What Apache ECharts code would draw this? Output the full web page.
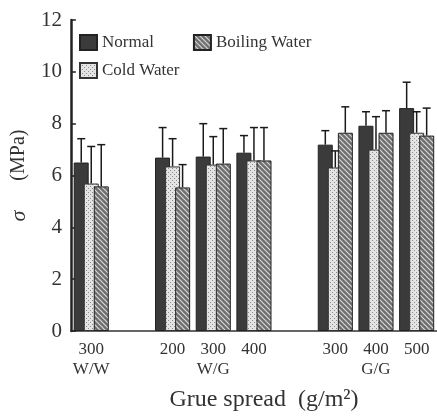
<!DOCTYPE html>
<html>
<head>
<meta charset="utf-8">
<script src="https://cdn.jsdelivr.net/npm/echarts@6/dist/echarts.min.js"></script>
<style>
  html, body { margin: 0; padding: 0; background: #fff; }
  #main { width: 437px; height: 417px; }
</style>
</head>
<body>
<div id="main"></div>
<script>
// glue spread groups (blank categories split the W/W, W/G and G/G groups)
var categories = ['300\nW/W', '', '200', '300\nW/G', '400', '', '300', '400\nG/G', '500']

var normal = [6.5, null, 6.69, 6.73, 6.88, null, 7.19, 7.92, 8.6]
var normalErr = [7.42, null, 7.85, 8.0, 7.54, null, 7.73, 8.46, 9.6]
var cold = [5.69, null, 6.35, 6.42, 6.58, null, 6.31, 7.0, 7.65]
var coldErr = [7.12, null, 7.42, 7.5, 7.85, null, 6.95, 8.27, 8.46]
var boiling = [5.58, null, 5.54, 6.46, 6.58, null, 7.65, 7.65, 7.54]
var boilingErr = [7.19, null, 6.42, 7.81, 7.85, null, 8.65, 8.5, 8.6]

var yTicks = [0, 2, 4, 6, 8, 10, 12]

var serif = 'Liberation Serif'

// fill patterns for the scanned look
function hatchPattern() {
  var c = document.createElement('canvas')
  c.width = 5
  c.height = 5
  var ctx = c.getContext('2d')
  ctx.fillStyle = '#6e6e6e'
  ctx.fillRect(0, 0, 5, 5)
  ctx.strokeStyle = '#d8d8d8'
  ctx.lineWidth = 1.2
  ctx.beginPath()
  ctx.moveTo(-1, -1); ctx.lineTo(6, 6)
  ctx.moveTo(-1, 4); ctx.lineTo(1, 6)
  ctx.moveTo(4, -1); ctx.lineTo(6, 1)
  ctx.stroke()
  return { image: c, repeat: 'repeat' }
}

function dotPattern() {
  var c = document.createElement('canvas')
  c.width = 4
  c.height = 4
  var ctx = c.getContext('2d')
  ctx.fillStyle = '#e4e4e4'
  ctx.fillRect(0, 0, 4, 4)
  ctx.fillStyle = '#8a8a8a'
  ctx.fillRect(0, 0, 1, 1)
  ctx.fillRect(2, 2, 1, 1)
  return { image: c, repeat: 'repeat' }
}

function errorSeries(name, values, tops, offset) {
  var data = []
  for (var i = 0; i < values.length; i++) {
    if (values[i] != null) data.push([i, values[i], tops[i]])
  }
  return {
    type: 'custom',
    name: name + ' err',
    z: 5,
    data: data,
    renderItem: function(params, api) {
      var low = api.coord([api.value(0), api.value(1)])
      var high = api.coord([api.value(0), api.value(2)])
      var x = low[0] + offset
      return {
        type: 'group',
        children: [
          { type: 'line', shape: { x1: x, y1: low[1], x2: x, y2: high[1] }, style: { stroke: '#1a1a1a', lineWidth: 1.5 } },
          { type: 'line', shape: { x1: x - 4, y1: high[1], x2: x + 4, y2: high[1] }, style: { stroke: '#1a1a1a', lineWidth: 1.5 } }
        ]
      }
    }
  }
}

var chart = echarts.init(document.getElementById('main'))

var barBase = {
  type: 'bar',
  barWidth: 15,
  barGap: '-33%'
}

chart.setOption({
  animation: false,
  textStyle: { fontFamily: serif },
  grid: { left: 66, top: 20, width: 373, height: 312 },
  legend: [
    {
      left: 74, top: 29,
      data: ['Normal', 'Boiling Water'],
      icon: 'rect', itemWidth: 17, itemHeight: 15, itemGap: 39,
      textStyle: { fontFamily: serif, fontSize: 17, color: '#333' }
    },
    {
      left: 74, top: 57,
      data: ['Cold Water'],
      icon: 'rect', itemWidth: 17, itemHeight: 15,
      textStyle: { fontFamily: serif, fontSize: 17, color: '#333' }
    }
  ],
  xAxis: {
    type: 'category',
    data: categories,
    axisLine: { lineStyle: { color: '#333', width: 1.5 } },
    axisTick: { show: false },
    axisLabel: { fontFamily: serif, fontSize: 17, color: '#333', lineHeight: 20, margin: 9, interval: 0 },
    name: 'Grue spread  (g/m²)',
    nameLocation: 'middle',
    nameGap: 57,
    nameTextStyle: { fontFamily: serif, fontSize: 24, color: '#333', padding: [0, 0, 0, 20] }
  },
  yAxis: {
    type: 'value',
    min: yTicks[0],
    max: yTicks[yTicks.length - 1],
    interval: 2,
    splitLine: { show: false },
    axisLine: { show: true, lineStyle: { color: '#222', width: 2.5 } },
    axisTick: { show: true, inside: true, length: 5, lineStyle: { color: '#222', width: 1.5 } },
    axisLabel: { fontFamily: serif, fontSize: 21, color: '#333', margin: 9 },
    name: '{s|σ}      (MPa)',
    nameLocation: 'middle',
    nameGap: 34,
    nameTextStyle: {
      fontFamily: serif, fontSize: 20, color: '#333',
      rich: { s: { fontFamily: serif, fontStyle: 'italic', fontSize: 22, color: '#333' } }
    }
  },
  series: [
    Object.assign({}, barBase, { name: 'Normal', data: normal, itemStyle: { color: '#3b3b3b', borderColor: '#222', borderWidth: 1 } }),
    Object.assign({}, barBase, { name: 'Cold Water', data: cold, itemStyle: { color: dotPattern(), borderColor: '#333', borderWidth: 1 } }),
    Object.assign({}, barBase, { name: 'Boiling Water', data: boiling, itemStyle: { color: hatchPattern(), borderColor: '#222', borderWidth: 1 } }),
    errorSeries('Normal', normal, normalErr, -10),
    errorSeries('Cold Water', cold, coldErr, 0),
    errorSeries('Boiling Water', boiling, boilingErr, 10)
  ]
})
</script>
</body>
</html>
